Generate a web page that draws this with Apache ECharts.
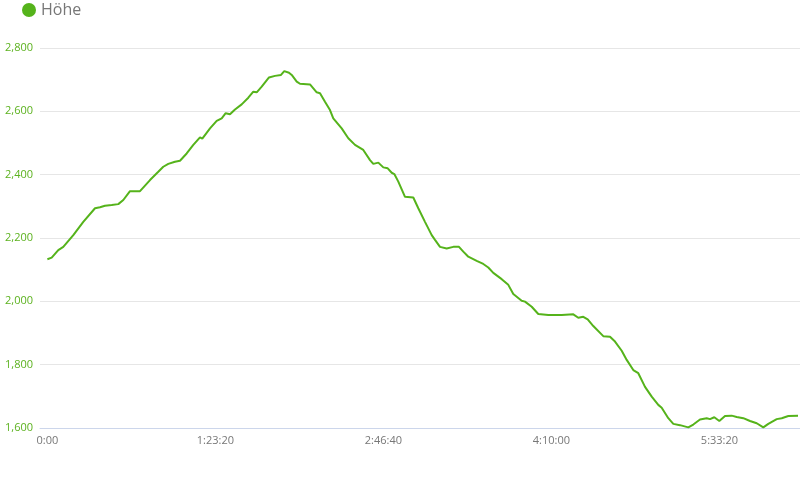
<!DOCTYPE html>
<html>
<head>
<meta charset="utf-8">
<script src="https://cdn.jsdelivr.net/npm/echarts@6/dist/echarts.min.js"></script>
<style>html,body{margin:0;padding:0;background:#fff}#c{width:800px;height:500px}</style>
</head>
<body>
<div id="c"></div>
<script>
// Elapsed time in seconds
var timeSeconds = [0,128,324,473,771,1068,1417,1565,1714,1914,2110,2259,2458,2756,3054,3300,3449,3598,3797,3946,4145,4342,4541,4610,4839,5038,5187,5306,5434,5583,5782,5979,6128,6229,6378,6595,6774,6952,7050,7190,7271,7420,7517,7815,8014,8113,8261,8410,8508,8758,8955,9154,9401,9601,9699,9848,9997,10128,10247,10324,10443,10642,10889,11038,11237,11437,11535,11684,11883,12080,12249,12377,12526,12776,12972,13121,13270,13520,13716,13865,14115,14213,14413,14609,14907,15306,15651,15799,15948,16079,16246,16543,16743,16892,17091,17240,17436,17585,17785,17984,18180,18281,18478,18627,18826,19073,19222,19421,19620,19719,19847,19996,20166,20365,20514,20710,20910,21109,21305,21454,21704,21853,22050,22338];
// Elevation (Höhe) in metres
var elevation = [2133,2138,2162,2172,2209,2251,2294,2297,2302,2304,2307,2320,2348,2348,2383,2409,2425,2434,2441,2444,2467,2494,2518,2514,2546,2570,2578,2594,2591,2606,2622,2643,2662,2660,2678,2707,2712,2715,2727,2722,2715,2694,2687,2685,2660,2657,2630,2604,2578,2546,2515,2494,2478,2446,2434,2438,2423,2420,2406,2402,2378,2330,2328,2294,2251,2209,2194,2172,2167,2172,2172,2157,2141,2128,2118,2107,2090,2070,2052,2023,2002,1999,1983,1960,1957,1957,1959,1948,1951,1943,1922,1890,1888,1873,1844,1815,1783,1773,1730,1699,1673,1664,1631,1613,1609,1602,1611,1627,1631,1628,1634,1622,1638,1639,1635,1631,1622,1615,1602,1613,1628,1631,1638,1639];
var xTickValues = [0,5000,10000,15000,20000];
var seriesName = 'Höhe';

var pts = timeSeconds.map(function(t,i){return [t, elevation[i]];});
function fmtTime(s){
  var h=Math.floor(s/3600), m=Math.floor((s%3600)/60), sec=Math.round(s%60);
  if(h===0 && m===0 && sec===0) return '0:00';
  return h+':'+(m<10?'0':'')+m+':'+(sec<10?'0':'')+sec;
}
var chart = echarts.init(document.getElementById('c'), null, {renderer:'canvas'});
chart.setOption({
  animation:false,
  textStyle:{fontFamily:'Open Sans'},
  legend:{
    left:17, top:-3, icon:'circle', itemWidth:14, itemHeight:14, itemGap:6,
    textStyle:{fontSize:16, color:'#777', fontFamily:'Open Sans'},
    data:[seriesName]
  },
  grid:{left:40, right:0, top:48, bottom:72, containLabel:false},
  xAxis:{
    type:'value', min:-220, max:22397,
    axisLine:{show:true, lineStyle:{color:'#ccd6eb', width:1}},
    axisTick:{show:false},
    splitLine:{show:false},
    axisLabel:{customValues:xTickValues, formatter:function(v){return fmtTime(v);}, color:'#777', fontSize:11, margin:7, fontFamily:'Open Sans'}
  },
  yAxis:{
    type:'value', min:1600, max:2800, interval:200,
    axisLine:{show:false}, axisTick:{show:false},
    splitLine:{lineStyle:{color:'#e6e6e6', width:1}},
    axisLabel:{color:'#5cb21f', fontSize:11, margin:7, fontFamily:'Open Sans', formatter:function(v){return v.toLocaleString('en-US');}}
  },
  series:[{
    name:seriesName, type:'line', data:pts, showSymbol:false, symbol:'none',
    itemStyle:{color:'#55b31b'},
    lineStyle:{color:'#55b31b', width:2}
  }]
});
</script>
</body>
</html>
